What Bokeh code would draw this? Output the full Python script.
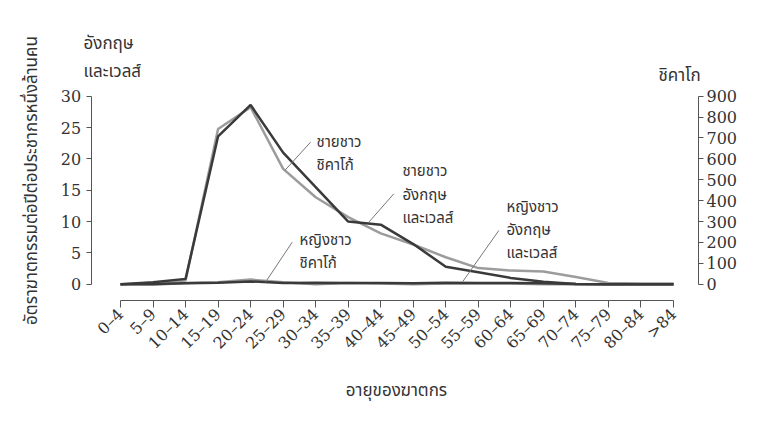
from math import pi
from bokeh.plotting import figure
from bokeh.models import Range1d, LinearAxis, FixedTicker, Label
from bokeh.embed import file_html
from bokeh.resources import INLINE

# ---------------- data ----------------
ages = ["0–4", "5–9", "10–14", "15–19", "20–24", "25–29", "30–34", "35–39",
        "40–44", "45–49", "50–54", "55–59", "60–64", "65–69", "70–74",
        "75–79", "80–84", ">84"]
# England & Wales (left axis, per million per year)
male_ew = [0.0, 0.3, 0.85, 23.6, 28.6, 21.0, 15.5, 10.0, 9.5, 6.4, 2.8,
           1.9, 1.0, 0.4, 0.05, 0.0, 0.0, 0.0]
female_ew = [0.0, 0.05, 0.15, 0.25, 0.45, 0.2, 0.25, 0.2, 0.2, 0.15, 0.25,
             0.2, 0.2, 0.15, 0.05, 0.0, 0.0, 0.0]
# Chicago (right axis, per million per year)
male_chi = [0, 5, 18, 743, 847, 552, 416, 321, 243, 190, 129, 77, 65, 61,
            34, 6, 3, 3]
female_chi = [0, -3, 6, 9, 22, 9, 0, 6, 3, 0, 3, 3, 3, 0, 0, 0, 0, 0]

left_ticks = [0, 5, 10, 15, 20, 25, 30]
right_ticks = [0, 100, 200, 300, 400, 500, 600, 700, 800, 900]

y_title = "อัตราฆาตกรรมต่อปีต่อประชากรหนึ่งล้านคน"
x_title = "อายุของฆาตกร"
left_head = ["อังกฤษ", "และเวลส์"]
right_head = "ชิคาโก"
lab_male_chi = ["ชายชาว", "ชิคาโก้"]
lab_male_ew = ["ชายชาว", "อังกฤษ", "และเวลส์"]
lab_female_chi = ["หญิงชาว", "ชิคาโก้"]
lab_female_ew = ["หญิงชาว", "อังกฤษ", "และเวลส์"]

# ---------------- styling / geometry ----------------
THAI = "Noto Sans Thai, Noto Sans, sans-serif"
NUM = "DejaVu Serif"
INK = "#333333"
DARK = "#3a3a3a"
GRAY = "#9c9c9c"
AX = "#555555"
RATIO = 30.0  # 900 / 30

W, H = 768, 426
X0_PX, DX_PX = 120.0, 32.53      # pixel of first category, pixels per category
Y0_PX, DY_PX = 283.7, 6.267      # pixel of value 0, pixels per unit (left axis)


def px_x(px):
    return (px - X0_PX) / DX_PX


def px_y(py):
    return (Y0_PX - py) / DY_PX


xs = list(range(len(ages)))

p = figure(width=W, height=H, output_backend="svg", toolbar_location=None,
           x_range=Range1d(px_x(0), px_x(W)), y_range=Range1d(px_y(H), px_y(0)),
           min_border=0)
p.extra_y_ranges = {"chi": Range1d(px_y(H) * RATIO, px_y(0) * RATIO)}
p.outline_line_color = None
p.xgrid.visible = False
p.ygrid.visible = False
p.background_fill_color = "white"

# left axis
ya = p.yaxis[0]
ya.fixed_location = px_x(90.7)
ya.ticker = FixedTicker(ticks=left_ticks)
ya.bounds = (0, 30)
ya.axis_line_color = AX
ya.major_tick_line_color = AX
ya.major_tick_out = 5
ya.major_tick_in = 0
ya.minor_tick_line_color = None
ya.major_label_text_font = NUM
ya.major_label_text_font_size = "16px"
ya.major_label_text_color = INK
ya.major_label_standoff = 5

# bottom axis
xa = p.xaxis[0]
xa.fixed_location = px_y(300)
xa.ticker = FixedTicker(ticks=xs)
xa.major_label_overrides = {i: a for i, a in zip(xs, ages)}
xa.bounds = (0, len(ages) - 1)
xa.axis_line_color = AX
xa.major_tick_line_color = AX
xa.major_tick_out = 7
xa.major_tick_in = 0
xa.minor_tick_line_color = None
xa.major_label_orientation = pi / 4
xa.major_label_text_font = NUM
xa.major_label_text_font_size = "16px"
xa.major_label_text_color = INK
xa.major_label_standoff = 4

# right axis
ra = LinearAxis(y_range_name="chi", ticker=FixedTicker(ticks=right_ticks),
                bounds=(0, 900), fixed_location=px_x(698))
ra.axis_line_color = AX
ra.major_tick_line_color = AX
ra.major_tick_out = 5
ra.major_tick_in = 0
ra.minor_tick_line_color = None
ra.major_label_text_font = NUM
ra.major_label_text_font_size = "16px"
ra.major_label_text_color = INK
ra.major_label_standoff = 3
p.add_layout(ra, "right")

# lines
p.line(xs, female_chi, y_range_name="chi", line_color=GRAY, line_width=2.5)
p.line(xs, male_chi, y_range_name="chi", line_color=GRAY, line_width=2.5)
p.line(xs, female_ew, line_color=DARK, line_width=2.5)
p.line(xs, male_ew, line_color=DARK, line_width=2.5)

# leader lines (start near label, end on the series)
leaders_x0 = [px_x(310), px_x(393.3), px_x(291.7), px_x(498.3)]
leaders_y0 = [px_y(141.7), px_y(193.3), px_y(241.7), px_y(230)]
leaders_x1 = [px_x(284.3), px_x(368.3), px_x(265), px_x(462.3)]
leaders_y1 = [px_y(170), px_y(221.7), px_y(281.7), px_y(281)]
p.segment(leaders_x0, leaders_y0, leaders_x1, leaders_y1,
          line_color="#777777", line_width=1)


def add_lines(lines, x, ys, size="15px"):
    for t, y in zip(lines, ys):
        p.add_layout(Label(x=px_x(x), y=px_y(y), text=t, text_font=THAI,
                           text_font_size=size, text_color=INK,
                           text_align="left", text_baseline="middle"))


add_lines(lab_male_chi, 316, [142, 165])
add_lines(lab_male_ew, 402, [171, 195, 218])
add_lines(lab_female_chi, 299, [240, 263])
add_lines(lab_female_ew, 506, [207, 230, 253])

add_lines(left_head, 83, [43, 71], size="17px")
add_lines([right_head], 658, [75], size="17px")

p.add_layout(Label(x=px_x(31), y=px_y(180), text=y_title, angle=pi / 2,
                   text_font=THAI, text_font_size="17px", text_color=INK,
                   text_align="center", text_baseline="middle"))
p.add_layout(Label(x=px_x(396), y=px_y(390), text=x_title,
                   text_font=THAI, text_font_size="17px", text_color=INK,
                   text_align="center", text_baseline="middle"))

open("out.html", "w").write(file_html(p, INLINE))
